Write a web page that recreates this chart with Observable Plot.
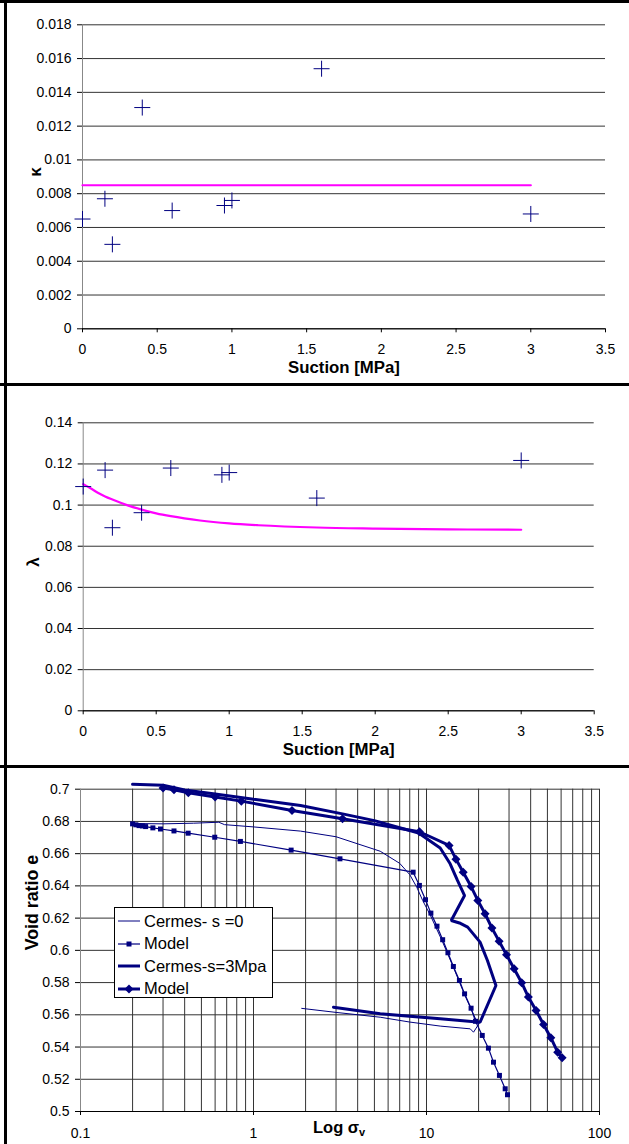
<!DOCTYPE html>
<html>
<head>
<meta charset="utf-8">
<script src="https://cdn.jsdelivr.net/npm/d3@7"></script>
<script src="https://cdn.jsdelivr.net/npm/@observablehq/plot@0.6"></script>
<style>
  html, body { margin: 0; padding: 0; background: #fff; }
  #root { position: relative; width: 629px; height: 1144px; overflow: hidden; font-family: 'Liberation Sans', Arial, sans-serif; }
  .panel { position: absolute; left: 0; }
  .border { position: absolute; background: #000; z-index: 5; }
  .legend { position: absolute; left: 114px; top: 907px; width: 157px; height: 89px; border: 1px solid #000; background: #fff; z-index: 4; }
  .lrow { position: absolute; left: 0; height: 20px; display: flex; align-items: center; font-size: 16.5px; color: #000; white-space: nowrap; }
  .lrow svg { margin-left: 3px; margin-right: 4px; }
  .xlab { position: absolute; font-weight: bold; font-size: 16.5px; line-height: 16px; z-index: 4; white-space: nowrap; }
  .xlab sub { font-size: 11px; vertical-align: -3px; }
</style>
</head>
<body>
<div id="root"></div>
<script>
// ---------------- DATA ----------------
// Panel 1: kappa vs suction
const kSuction = [0, 0.15, 0.2, 0.4, 0.6, 0.95, 1.0, 1.6, 3.0];
const kappaMeasured = [0.0065, 0.0077, 0.0050, 0.0131, 0.0070, 0.0073, 0.0076, 0.0154, 0.0068];
const kModelSuction = [0, 3];
const kappaModel = [0.0085, 0.0085];
const kTicks = [0, 0.002, 0.004, 0.006, 0.008, 0.01, 0.012, 0.014, 0.016, 0.018];
const kTickLabels = ["0", "0.002", "0.004", "0.006", "0.008", "0.01", "0.012", "0.014", "0.016", "0.018"];

// Panel 2: lambda vs suction
const lSuction = [0, 0.15, 0.2, 0.4, 0.6, 0.95, 1.0, 1.6, 3.0];
const lambdaMeasured = [0.109, 0.117, 0.089, 0.0963, 0.118, 0.1147, 0.1158, 0.1034, 0.1217];
const lModelSuction = [0, 0.05, 0.1, 0.15, 0.2, 0.3, 0.4, 0.5, 0.6, 0.8, 1.0, 1.2, 1.6, 2.0, 2.5, 3.0];
const lambdaModel = [0.1102, 0.1082, 0.1060, 0.1042, 0.1027, 0.1000, 0.0978, 0.0960, 0.0946, 0.0925, 0.0911, 0.0902, 0.0891, 0.0886, 0.0882, 0.0880];
const lTicks = [0, 0.02, 0.04, 0.06, 0.08, 0.1, 0.12, 0.14];
const lTickLabels = ["0", "0.02", "0.04", "0.06", "0.08", "0.1", "0.12", "0.14"];

const sTicks = [0, 0.5, 1, 1.5, 2, 2.5, 3, 3.5];
const sTickLabels = ["0", "0.5", "1", "1.5", "2", "2.5", "3", "3.5"];

// Panel 3: void ratio vs log vertical stress
const cermes0Stress = [0.2, 0.3, 0.45, 0.63, 0.68, 1.0, 1.87, 3.0, 5.4, 7.0, 8.0, 8.8, 9.5, 10.5, 12.3, 14.3, 16.6, 18.1, 19.5, 20.1, 18.7, 17.9, 12.0, 8.0, 5.4, 3.0, 1.9];
const cermes0E = [0.6787, 0.6785, 0.6789, 0.6795, 0.6780, 0.6766, 0.6740, 0.6705, 0.6615, 0.6540, 0.6470, 0.6390, 0.6310, 0.6220, 0.6060, 0.5895, 0.5725, 0.5635, 0.5560, 0.5545, 0.5492, 0.5513, 0.5530, 0.5555, 0.5585, 0.5615, 0.5640];

const model0Stress = [0.2, 0.209, 0.218, 0.228, 0.238, 0.262, 0.29, 0.347, 0.419, 0.597, 0.84, 1.65, 3.16, 8.37, 9.1, 9.87, 10.6, 11.5, 12.4, 13.3, 14.3, 15.5, 16.6, 18.1, 19.2, 21.0, 22.8, 24.4, 26.4, 28.5, 29.4];
const model0E = [0.6785, 0.6779, 0.6774, 0.6772, 0.6768, 0.6760, 0.6753, 0.6741, 0.6727, 0.6702, 0.6676, 0.6622, 0.6568, 0.6485, 0.6403, 0.6314, 0.6231, 0.6150, 0.6066, 0.5985, 0.5900, 0.5813, 0.5730, 0.5641, 0.5560, 0.5472, 0.5393, 0.5306, 0.5224, 0.5141, 0.5104];

const cermes3Stress = [0.2, 0.3, 0.4, 0.6, 1.0, 1.87, 3.27, 5.0, 9.0, 12.0, 13.7, 15.1, 16.6, 13.9, 15.5, 17.3, 20.4, 22.5, 25.2, 20.4, 12.0, 5.4, 2.9];
const cermes3E = [0.7030, 0.7025, 0.6995, 0.6970, 0.6938, 0.6899, 0.6847, 0.6805, 0.6728, 0.6635, 0.6537, 0.6434, 0.6340, 0.6185, 0.6170, 0.6144, 0.6051, 0.5937, 0.5782, 0.5554, 0.5575, 0.5606, 0.5647];

const model3Stress = [0.3, 0.347, 0.42, 0.6, 0.85, 1.67, 3.27, 9.1, 13.5, 14.8, 16.3, 18.1, 19.8, 21.8, 23.9, 26.3, 29.0, 32.1, 35.5, 38.8, 43.0, 47.5, 52.3, 57.3, 60.8];
const model3E = [0.7008, 0.6997, 0.6978, 0.6952, 0.6926, 0.6868, 0.6816, 0.6736, 0.6651, 0.6566, 0.6485, 0.6396, 0.6310, 0.6227, 0.6138, 0.6057, 0.5972, 0.5886, 0.5799, 0.5710, 0.5627, 0.5540, 0.5458, 0.5368, 0.5333];

const eTicks = [0.5, 0.52, 0.54, 0.56, 0.58, 0.6, 0.62, 0.64, 0.66, 0.68, 0.7];
const eTickLabels = ["0.5", "0.52", "0.54", "0.56", "0.58", "0.6", "0.62", "0.64", "0.66", "0.68", "0.7"];
const stressTicks = [0.1, 1, 10, 100];
const stressTickLabels = ["0.1", "1", "10", "100"];
const stressGrid = [0.2, 0.3, 0.4, 0.5, 0.6, 0.7, 0.8, 0.9, 1, 2, 3, 4, 5, 6, 7, 8, 9, 10, 20, 30, 40, 50, 60, 70, 80, 90, 100];

const legendLabels = ["Cermes- s =0", "Model", "Cermes-s=3Mpa", "Model"];

// ---------------- HELPERS ----------------
const NAVY = "#000080";
const MAGENTA = "#FF00FF";
const FONT = "'Liberation Sans', Arial, sans-serif";
const zip = (xs, ys) => xs.map((x, i) => ({x, y: ys[i]}));
const fmt = (ticks, labels) => d => labels[ticks.indexOf(d)];

const plusSymbol = { draw(ctx, size) { const r = Math.sqrt(size / Math.PI); ctx.moveTo(-r, 0); ctx.lineTo(r, 0); ctx.moveTo(0, -r); ctx.lineTo(0, r); } };
const diamondSymbol = { draw(ctx, size) { const r = Math.sqrt(size / Math.PI); ctx.moveTo(0, -r); ctx.lineTo(r, 0); ctx.lineTo(0, r); ctx.lineTo(-r, 0); ctx.closePath(); } };
const squareSymbol = { draw(ctx, size) { const r = Math.sqrt(size / Math.PI); ctx.rect(-r, -r, 2 * r, 2 * r); } };

const root = document.getElementById("root");
function place(node, top) {
  const d = document.createElement("div");
  d.className = "panel";
  d.style.top = top + "px";
  d.appendChild(node);
  root.appendChild(d);
}

// ---------------- PANEL 1 ----------------
const p1 = Plot.plot({
  width: 629, height: 385,
  marginLeft: 82, marginRight: 24, marginTop: 24.3, marginBottom: 56.7,
  style: {fontFamily: FONT, fontSize: "13.5px", color: "#000", background: "transparent"},
  x: {type: "linear", domain: [0, 3.5]},
  y: {type: "linear", domain: [0, 0.018]},
  marks: [
    Plot.gridY(kTicks, {stroke: "#333", strokeOpacity: 1, strokeWidth: 1}),
    Plot.ruleX([0], {stroke: "#888"}),
    Plot.ruleY([0], {stroke: "#000"}),
    Plot.axisY(kTicks, {tickFormat: fmt(kTicks, kTickLabels), tickSize: 5, tickPadding: 6, fontSize: 14, label: null}),
    Plot.axisX(sTicks, {tickFormat: fmt(sTicks, sTickLabels), tickSize: 4, tickPadding: 11, fontSize: 14, label: null}),
    Plot.line(zip(kModelSuction, kappaModel), {x: "x", y: "y", stroke: MAGENTA, strokeWidth: 2.2}),
    Plot.dot(zip(kSuction, kappaMeasured), {x: "x", y: "y", symbol: plusSymbol, r: 8, fill: "none", stroke: NAVY, strokeWidth: 1}),
    Plot.text(["Suction [MPa]"], {text: d => d, frameAnchor: "bottom", dy: 39, lineAnchor: "middle", fontWeight: "bold", fontSize: 16.8}),
    Plot.text(["κ"], {text: d => d, frameAnchor: "left", dx: -47, rotate: -90, fontWeight: "bold", fontSize: 17})
  ]
});
place(p1, 0);

// ---------------- PANEL 2 ----------------
const p2 = Plot.plot({
  width: 629, height: 381,
  marginLeft: 82.7, marginRight: 35.3, marginTop: 37.3, marginBottom: 55.7,
  style: {fontFamily: FONT, fontSize: "13.5px", color: "#000", background: "transparent"},
  x: {type: "linear", domain: [0, 3.5]},
  y: {type: "linear", domain: [0, 0.14]},
  marks: [
    Plot.gridY(lTicks, {stroke: "#333", strokeOpacity: 1, strokeWidth: 1}),
    Plot.ruleX([0], {stroke: "#888"}),
    Plot.ruleY([0], {stroke: "#000"}),
    Plot.axisY(lTicks, {tickFormat: fmt(lTicks, lTickLabels), tickSize: 5, tickPadding: 6, fontSize: 14, label: null}),
    Plot.axisX(sTicks, {tickFormat: fmt(sTicks, sTickLabels), tickSize: 4, tickPadding: 11, fontSize: 14, label: null}),
    Plot.line(zip(lModelSuction, lambdaModel), {x: "x", y: "y", stroke: MAGENTA, strokeWidth: 2.2, curve: "monotone-x"}),
    Plot.dot(zip(lSuction, lambdaMeasured), {x: "x", y: "y", symbol: plusSymbol, r: 8, fill: "none", stroke: NAVY, strokeWidth: 1}),
    Plot.text(["Suction [MPa]"], {text: d => d, frameAnchor: "bottom", dy: 39, lineAnchor: "middle", fontWeight: "bold", fontSize: 16.8}),
    Plot.text(["λ"], {text: d => d, frameAnchor: "left", dx: -50, rotate: -90, fontWeight: "bold", fontSize: 17})
  ]
});
place(p2, 385);

// ---------------- PANEL 3 ----------------
const p3 = Plot.plot({
  width: 629, height: 378,
  marginLeft: 80, marginRight: 30, marginTop: 22.7, marginBottom: 33,
  style: {fontFamily: FONT, fontSize: "13.5px", color: "#000", background: "transparent", overflow: "visible"},
  x: {type: "log", domain: [0.1, 100]},
  y: {type: "linear", domain: [0.5, 0.7]},
  marks: [
    Plot.ruleX(stressGrid, {stroke: "#333", strokeWidth: 1}),
    Plot.gridY(eTicks, {stroke: "#333", strokeOpacity: 1, strokeWidth: 1}),
    Plot.ruleX([0.1], {stroke: "#888"}),
    Plot.ruleY([0.5], {stroke: "#000"}),
    Plot.axisY(eTicks, {tickFormat: fmt(eTicks, eTickLabels), tickSize: 5, tickPadding: 6, fontSize: 14, label: null}),
    Plot.axisX(stressTicks, {tickFormat: fmt(stressTicks, stressTickLabels), tickSize: 4, tickPadding: 13, fontSize: 14, label: null}),
    Plot.line(zip(cermes0Stress, cermes0E), {x: "x", y: "y", stroke: NAVY, strokeWidth: 1}),
    Plot.line(zip(model0Stress, model0E), {x: "x", y: "y", stroke: NAVY, strokeWidth: 1.2}),
    Plot.dot(zip(model0Stress, model0E), {x: "x", y: "y", symbol: squareSymbol, r: 2.5, fill: NAVY, stroke: "none"}),
    Plot.line(zip(cermes3Stress, cermes3E), {x: "x", y: "y", stroke: NAVY, strokeWidth: 3, strokeLinejoin: "miter"}),
    Plot.line(zip(model3Stress, model3E), {x: "x", y: "y", stroke: NAVY, strokeWidth: 3}),
    Plot.dot(zip(model3Stress, model3E), {x: "x", y: "y", symbol: diamondSymbol, r: 4.5, fill: NAVY, stroke: "none"}),
    Plot.text(["Void ratio e"], {text: d => d, frameAnchor: "left", dx: -48, rotate: -90, fontWeight: "bold", fontSize: 17.8})
  ]
});
place(p3, 766);

// x-axis title with subscript
const xl = document.createElement("div");
xl.className = "xlab";
xl.style.left = "313px";
xl.style.top = "1119px";
xl.innerHTML = "Log σ<sub>v</sub>";
root.appendChild(xl);

// Legend
const legend = document.createElement("div");
legend.className = "legend";
const rowTops = [3, 25.5, 48, 70.5];
const swatch = [
  '<line x1="0" y1="5" x2="22" y2="5" stroke="' + NAVY + '" stroke-width="1"/>',
  '<line x1="0" y1="5" x2="22" y2="5" stroke="' + NAVY + '" stroke-width="1.2"/><rect x="8.5" y="2.5" width="5" height="5" fill="' + NAVY + '"/>',
  '<line x1="0" y1="5" x2="22" y2="5" stroke="' + NAVY + '" stroke-width="3"/>',
  '<line x1="0" y1="5" x2="22" y2="5" stroke="' + NAVY + '" stroke-width="3"/><path d="M11,0.5 L15.5,5 L11,9.5 L6.5,5 Z" fill="' + NAVY + '"/>'
];
legendLabels.forEach((lab, i) => {
  const row = document.createElement("div");
  row.className = "lrow";
  row.style.top = rowTops[i] + "px";
  row.innerHTML = '<svg width="22" height="10">' + swatch[i] + '</svg><span>' + lab + '</span>';
  legend.appendChild(row);
});
root.appendChild(legend);

// Borders (panel frames)
[[0, 0, 629, 3], [383, 0, 629, 3], [765, 0, 629, 3], [0, 4, 3, 1144]].forEach(([t, l, w, h]) => {
  const b = document.createElement("div");
  b.className = "border";
  b.style.top = t + "px"; b.style.left = l + "px"; b.style.width = w + "px"; b.style.height = h + "px";
  root.appendChild(b);
});
</script>
</body>
</html>
